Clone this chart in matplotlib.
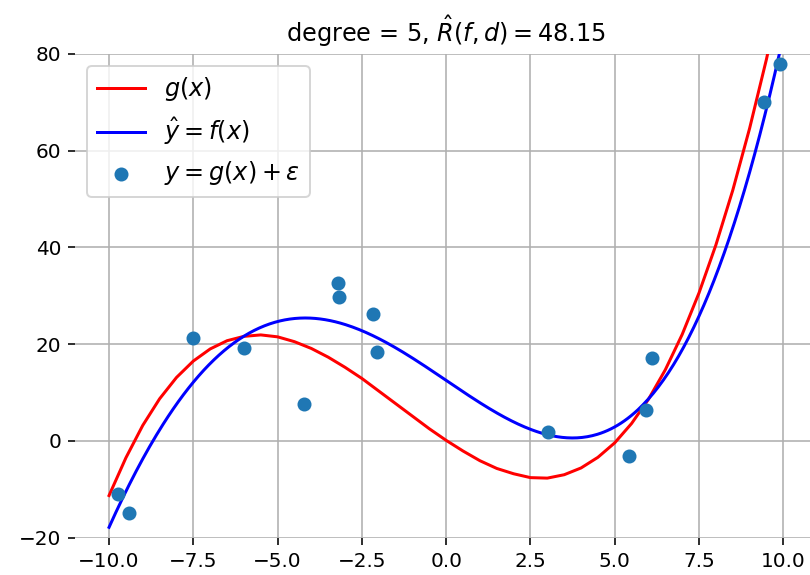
import numpy as np
import matplotlib
matplotlib.use("Agg")
import matplotlib.pyplot as plt

# noisy observations y = g(x) + eps
x_obs = [-9.72, -9.41, -7.50, -5.99, -4.23, -3.20, -3.17, -2.16, -2.04,
         3.02, 5.43, 5.93, 6.10, 9.42, 9.91]
y_obs = [-10.9, -15.0, 21.3, 19.1, 7.7, 32.6, 29.8, 26.3, 18.4,
         1.9, -3.2, 6.3, 17.2, 70.0, 77.8]

# true function g(x), sampled every 0.5
x_true = np.arange(-10, 10.01, 0.5)
g_true = [-11.3, -3.5, 3.2, 8.7, 13.1, 16.5, 19.0, 20.7, 21.6, 21.9,
          21.5, 20.5, 19.1, 17.3, 15.2, 12.9, 10.3, 7.7, 5.1, 2.5,
          0.1, -2.1, -4.1, -5.7, -6.8, -7.6, -7.7, -7.0, -5.6, -3.4,
          -0.4, 3.6, 8.6, 14.7, 22.0, 30.6, 40.5, 51.8, 64.6, 78.9, 94.9]

degree = 5
risk = 48.15

# least squares polynomial fit of the observations
coefs = np.polyfit(x_obs, y_obs, degree)
x_fit = np.linspace(-10, 10, 400)
y_fit = np.polyval(coefs, x_fit)

fig = plt.figure(figsize=(810 / 144, 575 / 144), dpi=144)
ax = fig.add_axes([0.093, 0.065, 0.9157, 0.8414])

ax.plot(x_true, g_true, color="red", lw=1.5, label="$g(x)$",
        solid_joinstyle="round")
ax.plot(x_fit, y_fit, color="blue", lw=1.5, label=r"$\hat{y} = f(x)$")
ax.scatter(x_obs, y_obs, color="#1f77b4", s=36, zorder=3,
           label=r"$y = g(x) + \varepsilon$")

ax.set_xlim(-11, 11)
ax.set_ylim(-20, 80)
ax.set_xticks(np.arange(-10, 10.1, 2.5))
ax.grid(True)
for s in ax.spines.values():
    s.set_visible(False)

ax.set_title(r"degree = %d, $\hat{R}(f,d) = %.2f$" % (degree, risk), fontsize=12)
ax.legend(loc="upper left", fontsize=12)

fig.savefig("out.png", dpi=144)
